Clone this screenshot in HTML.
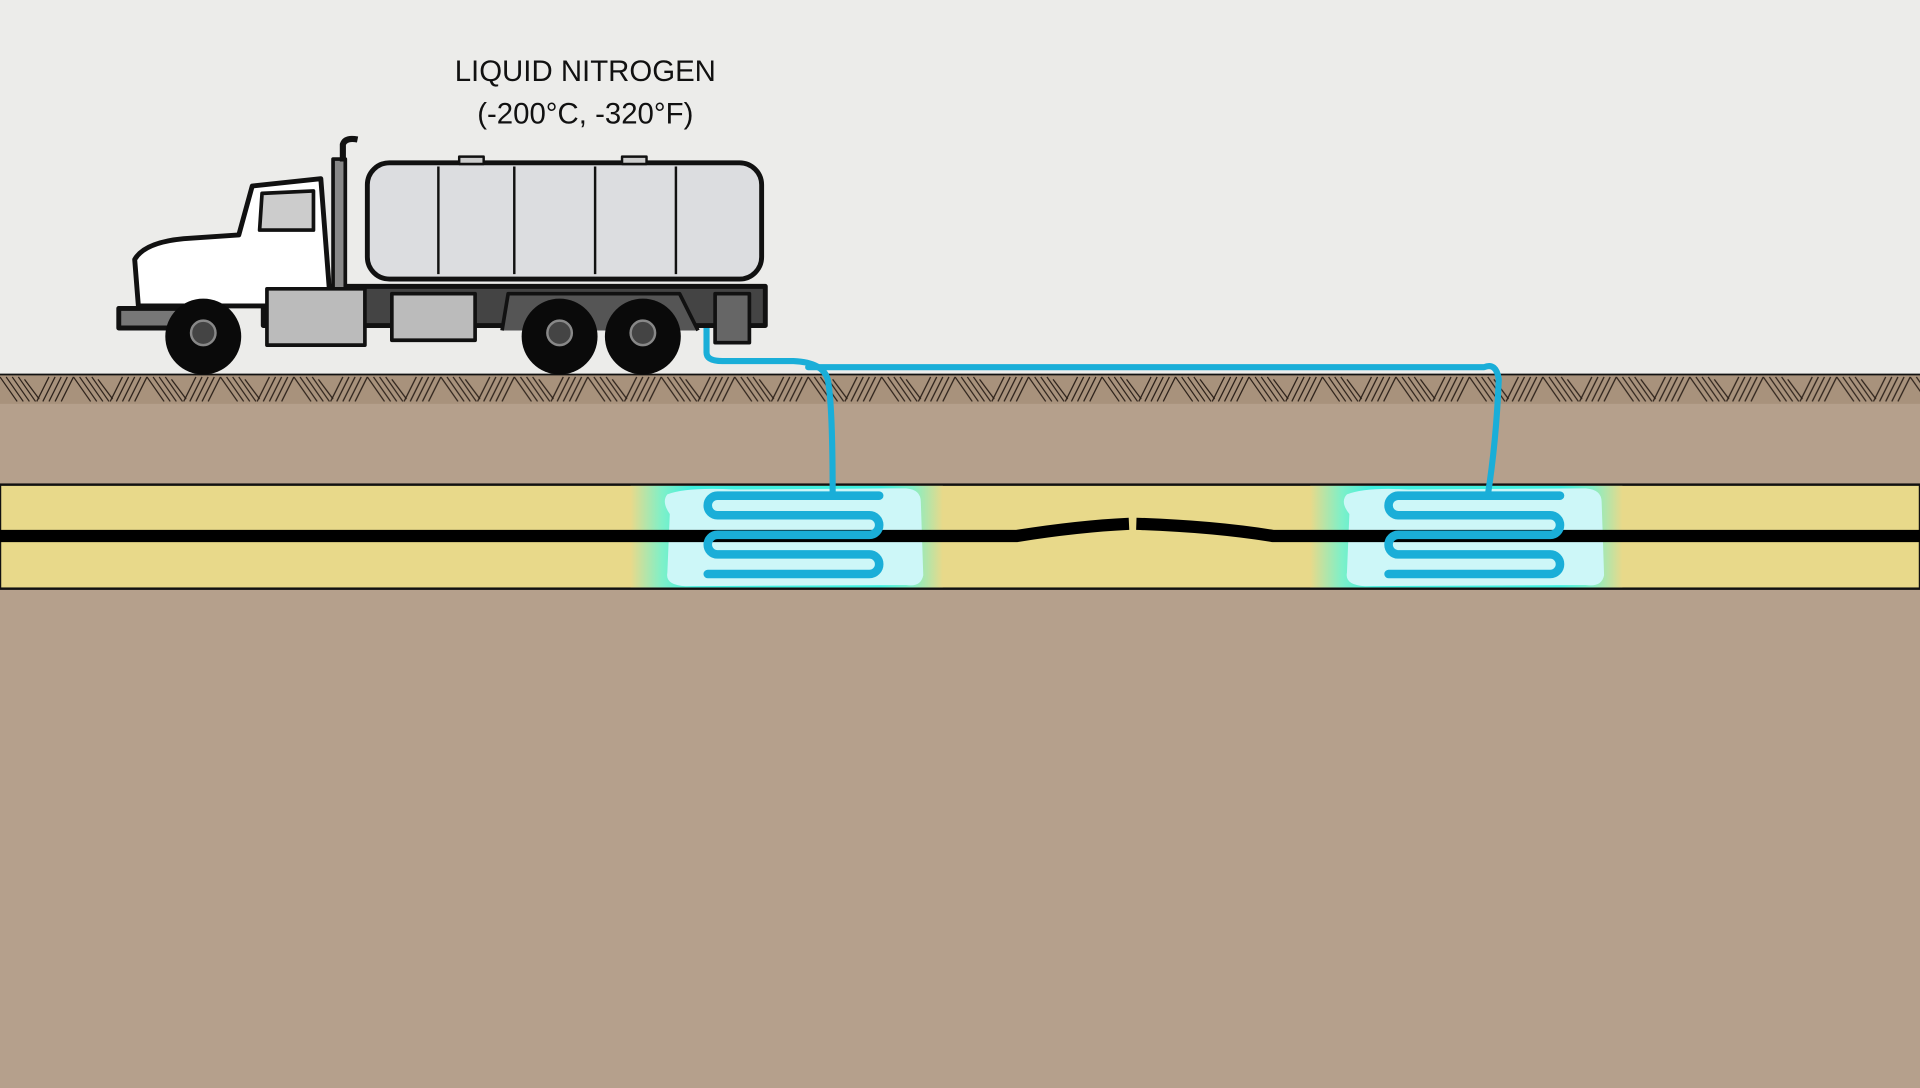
<!DOCTYPE html>
<html><head><meta charset="utf-8"><style>
html,body{margin:0;padding:0;width:1920px;height:1088px;overflow:hidden;background:#ececea}
svg{display:block}
</style></head><body>
<svg width="1920" height="1088" viewBox="0 0 1568 889" preserveAspectRatio="none" xmlns="http://www.w3.org/2000/svg">
<defs>
<pattern id="h1" x="0" y="306" width="60" height="24" patternUnits="userSpaceOnUse">
<g stroke="#2a1f18" stroke-width="1">
<path d="M0,2 L14,22 M5,2 L19,22 M10,2 L24,22 M15,2 L29,22 M20,4 L32,20"/>
<path d="M40,2 L30,22 M45,2 L35,22 M50,2 L40,22 M55,2 L45,22 M60,2 L50,22"/>
</g>
</pattern>
<linearGradient id="g1" x1="0" x2="1" y1="0" y2="0">
<stop offset="0" stop-color="#e8d98a"/>
<stop offset="0.1" stop-color="#7ff0c8"/>
<stop offset="0.2" stop-color="#3ef0e0"/>
<stop offset="0.8" stop-color="#3ef0e0"/>
<stop offset="0.9" stop-color="#7ff0c8"/>
<stop offset="1" stop-color="#e8d98a"/>
</linearGradient>
</defs>
<rect width="1568" height="306" fill="#ececea"/>
<rect y="306" width="1568" height="583" fill="#b5a08c"/>
<rect y="306" width="1568" height="24" fill="#a8927c"/>
<rect y="306" width="1568" height="24" fill="url(#h1)"/>
<line x1="0" y1="306" x2="1568" y2="306" stroke="#111" stroke-width="1.5"/>
<rect y="396" width="1568" height="85" fill="#e8d98a" stroke="#111" stroke-width="2"/>
<g>
<rect x="515" y="397" width="255" height="83" fill="url(#g1)"/>
<path d="M545,404 Q560,398 600,400 L740,399 Q752,400 752,410 L754,470 Q752,480 740,478 L560,479 Q543,478 545,468 L547,420 Q540,410 545,404Z" fill="#cdf7f8"/>
<rect x="1070" y="397" width="255" height="83" fill="url(#g1)"/>
<path d="M1100,404 Q1115,398 1150,400 L1295,399 Q1308,400 1308,410 L1310,470 Q1308,480 1295,478 L1115,479 Q1098,478 1100,468 L1102,420 Q1094,410 1100,404Z" fill="#cdf7f8"/>
</g>
<path d="M0,438 L830,438 Q880,430 922,428 M928,428 Q990,430 1040,438 L1568,438" fill="none" stroke="#000" stroke-width="10"/>
<g fill="none" stroke="#1aaed8" stroke-width="7" stroke-linecap="round" stroke-linejoin="round">
<path d="M718,405 H586 A8,8 0 0 0 586,421 H710 A8,8 0 0 1 710,437 H586 A8,8 0 0 0 586,453 H710 A8,8 0 0 1 710,469 H578"/>
<path d="M1274,405 H1142 A8,8 0 0 0 1142,421 H1266 A8,8 0 0 1 1266,437 H1142 A8,8 0 0 0 1142,453 H1266 A8,8 0 0 1 1266,469 H1134"/>
</g>
<g fill="none" stroke="#1aaed8" stroke-width="5" stroke-linecap="round" stroke-linejoin="round">
<path d="M577,268 V288 Q577,295 590,295 L648,295 Q672,296 676,310 Q680,330 680,405"/>
<path d="M660,300 L1212,300 Q1222,296 1224,310 Q1222,360 1215,405"/>
</g>
<g stroke="#111" stroke-width="4" stroke-linejoin="round">
<rect x="215" y="234" width="410" height="32" fill="#444"/>
<rect x="97" y="252" width="50" height="16" fill="#777"/>
<rect x="300" y="133" width="322" height="95" rx="18" fill="#dcdde0"/>
<g stroke-width="2"><line x1="358" y1="136" x2="358" y2="224"/><line x1="420" y1="136" x2="420" y2="224"/><line x1="486" y1="136" x2="486" y2="224"/><line x1="552" y1="136" x2="552" y2="224"/></g>
<rect x="375" y="128" width="20" height="6" fill="#ccc" stroke-width="2"/>
<rect x="508" y="128" width="20" height="6" fill="#ccc" stroke-width="2"/>
<path d="M113,250 L110,212 Q118,198 150,195 L195,192 L206,152 L262,146 L270,250 Z" fill="#fff"/>
<path d="M214,158 L256,156 L256,188 L212,188Z" fill="#ccc" stroke-width="3"/>
<rect x="272" y="130" width="10" height="110" fill="#888" stroke-width="3"/>
<path d="M280,132 V118 Q282,112 292,114" fill="none" stroke-width="5"/>
<rect x="218" y="236" width="80" height="46" fill="#bbb" stroke-width="3"/>
<rect x="320" y="240" width="68" height="38" fill="#bbb" stroke-width="3"/>
<rect x="584" y="240" width="28" height="40" fill="#666" stroke-width="3"/>
<path d="M410,270 L415,240 L555,240 L570,270" fill="#555" stroke-width="3"/>
</g>
<g fill="#0a0a0a">
<circle cx="166" cy="275" r="31"/><circle cx="457" cy="275" r="31"/><circle cx="525" cy="275" r="31"/>
</g>
<g fill="#444" stroke="#888" stroke-width="2">
<circle cx="166" cy="272" r="10"/><circle cx="457" cy="272" r="10"/><circle cx="525" cy="272" r="10"/>
</g>
<g font-family="Liberation Sans, sans-serif" font-size="24" fill="#111" text-anchor="middle">
<text x="478" y="66">LIQUID NITROGEN</text>
<text x="478" y="101">(-200°C, -320°F)</text>
</g>
</svg>
</body></html>
